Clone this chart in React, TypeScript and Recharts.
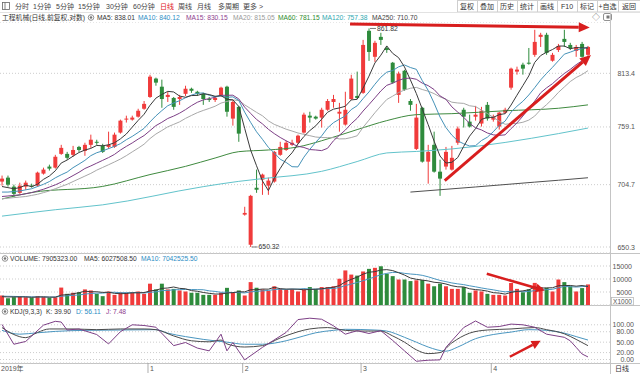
import React from 'react';
import { ComposedChart, Bar, Line, XAxis, YAxis, CartesianGrid, ReferenceLine, ReferenceDot, Cell } from 'recharts';

const FONT = "'Liberation Sans', Arial, 'Noto Sans CJK SC', sans-serif";
const RED = '#f03b3b';
const GREEN = '#2e8b3c';
const ARROW = '#d81e1e';

// ---------- price data (daily candles) ----------
const opens = [707.5,711.1,702.9,697.3,702.9,703.8,703.8,714.8,721.3,720.3,733.2,733.2,732.3,739.8,736.0,741.8,744.7,740.8,739.8,739.8,753.6,766.3,766.3,769.2,777.1,789.0,807.9,799.5,789.0,788.0,786.9,792.2,797.4,794.3,792.2,786.9,785.9,790.0,799.5,767.3,779.0,678.0,652.2,701.9,709.3,703.8,707.5,732.3,736.9,741.8,743.8,753.6,770.2,769.2,768.3,776.1,783.9,772.2,761.4,786.9,790.0,793.2,859.2,830.9,852.5,840.4,824.6,791.1,816.1,784.9,737.9,778.1,725.9,741.8,716.6,721.3,718.5,743.8,776.1,764.3,769.2,762.4,781.0,766.3,759.5,773.2,798.5,815.2,822.5,824.6,833.0,852.5,854.8,826.7,838.2,850.3,843.7,837.2,844.8,833.0];
const highs = [713.0,713.0,704.7,706.5,708.4,705.6,716.6,720.3,723.1,732.3,741.8,735.1,740.8,740.8,743.8,751.6,746.7,742.8,754.5,753.6,766.3,770.2,770.2,777.1,784.9,811.9,808.9,806.8,794.3,789.0,791.1,800.5,798.5,795.3,793.2,789.0,790.0,799.5,800.5,785.9,780.0,684.9,695.5,718.5,714.8,711.1,736.0,744.7,745.7,746.7,751.6,773.2,774.1,770.2,778.1,786.9,791.1,783.0,794.3,811.9,815.2,849.2,861.82,848.2,857.0,842.6,825.4,815.2,817.1,786.9,782.0,779.0,741.8,754.5,727.7,739.8,740.8,759.5,778.1,771.2,780.0,779.0,783.9,771.2,774.1,778.1,819.4,820.4,824.6,840.4,860.3,857.0,857.0,835.1,844.8,860.3,846.0,843.7,847.0,842.6];
const lows = [703.8,702.9,693.7,696.4,700.1,702.0,702.9,713.9,717.6,719.4,732.3,727.7,730.5,735.1,731.4,738.9,741.8,734.1,737.9,738.9,752.6,763.4,765.3,768.3,776.1,788.0,800.5,778.1,783.9,776.1,781.0,790.0,793.2,790.0,781.0,783.9,783.9,789.0,769.2,760.4,744.7,677.1,650.32,697.3,695.5,695.5,706.5,731.4,736.0,740.8,742.8,752.6,763.4,766.3,758.5,775.1,778.1,754.5,760.4,785.9,786.9,792.2,826.5,825.4,843.7,835.1,802.6,783.0,795.3,775.1,736.9,725.0,705.6,715.7,694.6,718.5,717.6,741.8,758.5,758.5,765.3,759.5,765.3,764.3,756.5,772.2,796.4,812.0,812.0,822.5,830.9,841.5,833.0,825.7,836.1,841.5,838.2,830.9,829.9,830.9];
const closes = [710.2,704.7,696.4,703.8,706.5,702.9,715.7,718.5,719.4,730.5,738.9,729.5,736.9,736.9,741.8,746.7,743.8,735.1,741.8,751.6,765.3,767.3,768.3,775.1,782.0,809.9,803.7,786.9,791.1,779.0,789.0,797.4,795.3,792.2,786.9,785.9,788.0,798.5,774.1,783.9,752.6,679.5,694.6,700.1,713.9,708.4,735.1,739.8,743.8,743.8,750.6,771.2,768.3,767.3,776.1,784.9,786.9,774.1,776.1,807.9,788.0,843.7,836.1,846.0,849.2,838.2,803.7,813.1,796.4,781.0,768.3,725.9,735.1,716.6,710.2,735.1,729.5,757.5,769.2,759.5,771.2,775.1,767.3,769.2,773.2,776.1,818.3,817.3,818.3,823.6,847.0,854.8,835.1,833.0,842.6,847.0,840.4,841.5,830.9,841.5];
// volume (x1000)
const volumes = [3650,2600,3000,3300,3000,2800,3400,3100,2800,3000,6700,4300,4700,4900,6000,5600,4300,3400,5200,3900,4900,4700,4700,5200,4300,8200,6000,8200,6000,6200,5600,5200,4700,4700,3900,3900,3900,4700,6600,4700,5600,3650,8800,6600,6000,5400,7200,6200,5800,6000,5200,6000,6900,6200,6900,6900,7200,10100,13300,11700,11300,12900,13900,14300,14900,12000,11100,9800,9800,9200,9500,9600,8200,7200,8200,7200,6200,6200,6900,4700,5600,5200,4300,3900,3900,3650,8500,6200,4900,6000,8500,6900,6600,5200,9800,8800,7200,5200,6500,7905];

// ---------- moving averages ----------
const ma5 = [703,702,701,702,704.3,702.9,705.1,709.5,712.6,717.4,724.6,727.4,731.0,734.5,736.8,738.4,741.2,740.9,741.8,743.8,747.5,752.2,758.9,765.5,771.6,780.5,787.8,791.5,794.7,794.1,789.9,788.7,790.4,790.6,792.2,791.5,789.7,790.3,786.7,786.1,779.4,757.7,736.9,722.1,708.1,699.3,710.4,719.5,728.2,734.2,742.6,749.8,755.5,760.2,766.7,773.6,776.7,777.9,779.6,786.0,786.6,798.0,810.4,824.3,832.6,842.6,834.6,830.0,820.1,806.5,792.5,776.9,761.3,745.4,731.2,724.6,725.3,729.8,740.3,750.2,757.4,766.5,768.5,768.5,771.2,772.2,780.8,790.8,800.6,810.7,824.9,832.2,835.8,838.7,842.5,842.5,839.6,840.9,840.5,840.3];
const ma10 = [698,698,698.5,699,700,701,703,705,707.5,710.9,713.7,716.2,720.3,723.6,727.1,731.5,734.3,736.0,738.2,740.3,742.9,746.7,749.9,753.7,757.7,764.0,770.0,775.2,780.1,782.9,785.2,788.2,790.9,792.7,793.1,790.7,789.2,790.3,788.6,789.1,785.5,773.7,763.6,754.4,747.1,739.4,734.1,728.2,725.2,721.2,721.0,730.1,737.5,744.2,750.4,758.1,763.3,766.7,769.9,776.3,780.1,787.3,794.1,802.0,809.3,814.6,816.3,820.2,822.2,819.5,817.6,805.8,795.7,782.8,768.9,758.5,751.1,745.6,742.8,740.7,741.0,745.9,749.1,754.4,760.7,764.8,773.7,779.6,784.6,791.0,798.5,806.5,813.3,819.7,826.6,833.7,835.9,838.3,839.6,841.4];
const ma15 = [694,694.5,695,695.5,696.5,697.5,699,700.5,702.5,704.5,707,710,713,716,719.5,721.9,724.5,727.1,729.7,732.7,736.8,740.3,743.6,747.3,750.7,755.5,760.4,763.7,767.4,769.8,772.7,776.2,780.2,783.6,786.0,787.3,788.7,790.7,790.7,790.8,787.0,778.7,772.5,766.5,762.1,756.8,752.6,748.9,745.7,742.8,740.4,739.3,737.3,736.9,736.3,738.5,745.7,751.0,756.0,762.3,767.6,774.8,781.3,788.1,795.1,800.9,803.1,806.1,808.0,808.4,807.2,803.2,800.6,796.6,790.1,786.6,779.0,773.7,768.6,762.6,758.2,756.2,753.2,751.4,750.9,751.4,757.5,763.0,769.8,777.4,784.8,793.2,798.3,802.6,808.1,813.2,817.5,822.5,826.6,831.2];
const ma20 = [692,692.5,693,693.5,694,695,696,697.5,699,701,703,705,707.5,710,712.5,715,718,720.5,723,725.6,728.3,731.5,735.1,738.6,742.4,747.8,752.2,755.6,759.2,761.6,764.1,767.5,770.4,773.2,775.4,777.4,779.6,782.8,784.4,786.0,785.4,781.0,777.3,773.5,770.1,765.1,761.6,759.3,756.9,755.1,753.2,751.9,750.6,749.3,748.8,748.7,748.7,747.5,747.6,748.8,750.5,758.7,765.8,773.1,779.9,786.4,789.8,793.5,796.1,797.9,798.8,796.6,794.9,792.4,789.1,786.6,783.7,782.9,782.5,780.1,779.3,775.8,772.4,768.6,764.8,761.7,762.4,762.6,763.7,765.8,769.8,776.2,781.2,787.0,793.6,799.2,804.8,809.0,812.1,816.2];
const ma60Pts = [[0,691.8],[5,697.6],[17,703.1],[25,713.9],[31,721.5],[36,729.3],[40,735.3],[45,736.9],[50,739.8],[54,745.7],[60,756.5],[65,765.3],[70,771.2],[76,772.2],[85,775.1],[94,777.6],[99,781.0]];
const ma120Pts = [[0,676.7],[9,682.3],[17,686.6],[34,702.9],[40,707.7],[44,710.2],[54,716.9],[60,726.0],[65,734.1],[70,735.5],[76,737.9],[94,752.6],[99,758.0]];
const ma250Pts = [[69,698.0],[80,702.6],[90,707.0],[94,708.7],[99,711.0]];

const volMa5 = [3200,3100,3100,3100,3110,2940,3100,3120,3020,3020,3800,3980,4300,4720,5320,5100,5100,4840,4900,4480,4340,4420,4680,4680,4760,5420,5680,6380,6540,6920,6400,6240,5540,5280,4820,4480,4220,4220,4600,4760,5100,5050,5870,5870,6130,6090,6800,6280,6120,6120,6080,5840,5980,6060,6240,6580,6820,7460,8880,9840,10720,11860,12620,12820,13460,13600,13240,12420,11520,10380,9880,9580,9260,8740,8540,8080,7400,7000,6940,6240,5920,5720,5340,4740,4580,4190,4850,5230,5430,5850,6820,6500,6580,6640,7400,7460,7520,7240,7500,7120];
const volMa10 = [3400,3350,3300,3250,3200,3150,3100,3100,3050,3070,3370,3540,3710,3870,4170,4450,4540,4570,4810,4900,4720,4760,4760,4790,4620,4880,5050,5530,5610,5840,5910,5960,5960,5910,5870,5440,5230,4880,4940,4790,4790,4640,5050,5240,5450,5600,5930,6080,6000,6130,6090,6320,6130,6090,6180,6330,6330,6720,7470,8040,8650,9340,10040,10850,11650,12160,12550,12520,12170,11920,11740,11410,10840,10130,9460,8980,8490,8130,7840,7390,7000,6560,6170,5840,5410,5060,5290,5290,5090,5220,5510,5680,5910,6040,6630,7140,7010,6910,7070,7260];

// KDJ(9,3,3)
const kPts = [[0,92],[2,72],[4,63],[6,78],[8,88],[12,88],[16,86],[20,88],[24,88],[26,86],[29,68],[32,54],[35,51],[37,56],[38,45],[41,36],[44,40],[47,62],[50,80],[52,88],[55,92],[58,84],[61,82],[64,82],[66,68],[68,50],[70,28],[72,17],[74,20],[76,48],[79,76],[82,85],[86,88],[90,92],[92,86],[95,74],[97,58],[99,39.9]];
const dPts = [[0,84],[3,73],[6,77],[9,81],[14,84],[20,85],[26,86],[28,76],[31,66],[34,58],[38,50],[41,44],[44,44],[48,54],[51,68],[53,77],[56,84],[58,87],[63,85],[65,82],[68,64],[70,50],[72,36],[75,24],[77,36],[80,60],[83,72],[86,79],[89,86],[92,84],[95,76],[97,66],[99,56.11]];
const jPts = [[0,101],[2,44],[4,52],[7,99],[9,110],[10,108],[11,85],[13,88],[16,72],[18,45],[20,80],[22,100],[24,98],[26,93],[29,40],[31,49],[33,33],[35,25],[37,73],[38,25],[39,49],[41,-1],[44,35],[48,78],[50,115],[52,119],[54,116],[56,97],[58,73],[60,83],[62,75],[64,83],[66,55],[68,25],[70,-5],[72,-2],[74,-1],[75,35],[78,92],[80,111],[82,93],[84,95],[86,102],[88,100],[90,93],[92,73],[95,64],[96,54],[97,35],[98,16],[99,7.48]];

// ticks / labels
const priceTicks = [650.3, 704.7, 759.1, 813.4];
const volTicks = [5000, 10000, 15000];
const kdjTicks = [0, 20, 50, 80, 100];
const monthTickIdx = [0, 25, 41, 61, 83];
const monthLabels = ['2019年', '1', '2', '3', '4'];

// annotation arrows (data coordinates)
const topArrow = [{ x: 58.8, y: 866.9 }, { x: 99.3, y: 863.0 }];
const trendArrow = [{ x: 74.8, y: 708.3 }, { x: 99.5, y: 832.8 }];
const volArrow = [{ x: 81.9, y: 12000 }, { x: 91.7, y: 5600 }];
const kdjArrow = [{ x: 85.8, y: 8 }, { x: 91, y: 54 }];

const X_DOMAIN = [-0.34, 102.72];

const candles = opens.map((o, i) => ({ i, open: o, high: highs[i], low: lows[i], close: closes[i], vol: volumes[i] }));
const toSeries = (arr) => arr.map((v, i) => ({ i, v }));
const fromPts = (pts) => pts.map(([i, v]) => ({ i, v }));

const Candle = (props) => {
  const { x, y, width, height, payload } = props;
  if (x == null || y == null || !payload) return null;
  const { open, close, high, low } = payload;
  const color = close >= open ? RED : GREEN;
  const top = Math.min(y, y + height);
  const h = Math.abs(height);
  const lh = Math.log(high), ll = Math.log(low);
  const span = lh - ll;
  const py = (v) => (span <= 0 ? top : top + ((lh - Math.log(v)) / span) * h);
  const cx = x + width / 2;
  const bt = py(Math.max(open, close));
  const bb = py(Math.min(open, close));
  return (
    <g>
      <line x1={cx} x2={cx} y1={top} y2={top + h} stroke={color} strokeWidth={1} />
      <rect x={cx - 2} y={bt} width={4} height={Math.max(1, bb - bt)} fill={color} />
    </g>
  );
};

const makeArrow = (w, L, hw) => (props) => {
  const { x1, y1, x2, y2 } = props;
  if ([x1, y1, x2, y2].some((v) => v == null || isNaN(v))) return null;
  const a = Math.atan2(y2 - y1, x2 - x1);
  const bx = x2 - L * Math.cos(a), by = y2 - L * Math.sin(a);
  const p1 = `${bx + hw * Math.sin(a)},${by - hw * Math.cos(a)}`;
  const p2 = `${bx - hw * Math.sin(a)},${by + hw * Math.cos(a)}`;
  return (
    <g>
      <line x1={x1} y1={y1} x2={bx} y2={by} stroke={ARROW} strokeWidth={w} />
      <polygon points={`${x2},${y2} ${p1} ${p2}`} fill={ARROW} />
    </g>
  );
};
const BigArrow = makeArrow(3, 11, 5);
const SmallArrow = makeArrow(2.5, 9, 4.5);

const ExtremeLabel = (text) => (props) => {
  const { cx, cy } = props;
  if (cx == null || cy == null) return null;
  return (
    <g>
      <line x1={cx + 1} x2={cx + 7} y1={cy} y2={cy} stroke="#555" strokeWidth={0.8} />
      <text x={cx + 8} y={cy} dominantBaseline="central" fontSize={6.8} fill="#333" fontFamily={FONT}>{text}</text>
    </g>
  );
};

const mkTick = (xEnd, fmt) => (p) => (
  <text x={xEnd} y={p.y} textAnchor="end" dominantBaseline="central" fontSize={7} fill="#555" fontFamily={FONT}>
    {fmt(p.payload.value)}
  </text>
);

const MonthTick = (p) => {
  const idx = monthTickIdx.indexOf(p.payload.value);
  const label = monthLabels[idx] ?? '';
  return (
    <g>
      {idx > 0 && <line x1={p.x - 2} x2={p.x - 2} y1={p.y} y2={p.y + 10} stroke="#999" strokeWidth={0.8} />}
      <text x={idx > 0 ? p.x : 1} y={p.y + 5.5} dominantBaseline="central" fontSize={7} fill="#555" fontFamily={FONT}>{label}</text>
    </g>
  );
};

const toolbarLabels = ['分时', '1分钟', '5分钟', '15分钟', '30分钟', '60分钟', '日线', '周线', '月线', '多周期', '更多 >'];
const toolbarX = [15, 33, 56, 78, 106, 133, 160, 178, 197, 218, 243];
const btnLabels = ['复权', '叠加', '历史', '统计', '画线', 'F10', '标记', '+自选', '返回'];
const btnEdges = [457, 477, 497, 517, 537, 557, 577, 597, 618, 640];
const maLegend = [
  { t: 'MA5: 838.01', x: 97, c: '#333' },
  { t: 'MA10: 840.12', x: 138, c: '#2b8cc4' },
  { t: 'MA15: 830.15', x: 186, c: '#8e3c8e' },
  { t: 'MA20: 815.05', x: 233, c: '#999' },
  { t: 'MA60: 781.15', x: 278, c: '#2e8b2e' },
  { t: 'MA120: 757.38', x: 322, c: '#2fa8b0' },
  { t: 'MA250: 710.70', x: 372, c: '#444' },
];

const T = ({ x, y, c = '#333', s = 6.8, anchor = 'start', children }) => (
  <text x={x} y={y} fill={c} fontSize={s} textAnchor={anchor} dominantBaseline="central" fontFamily={FONT}>{children}</text>
);
const Bullet = ({ x, y }) => (
  <g>
    <circle cx={x} cy={y} r={2.8} fill="none" stroke="#777" strokeWidth={0.8} />
    <circle cx={x} cy={y} r={1.3} fill="#777" />
  </g>
);

const Overlay = () => (
  <svg width={640} height={374} style={{ position: 'absolute', left: 0, top: 0 }}>
    <rect x={0} y={0} width={640} height={374} fill="#fff" />
    {/* toolbar */}
    <rect x={2.5} y={2.5} width={7} height={7} fill="none" stroke="#666" strokeWidth={0.8} />
    <line x1={5} x2={5} y1={2.5} y2={9.5} stroke="#666" strokeWidth={0.8} />
    {toolbarLabels.map((l, k) => (
      <T key={l} x={toolbarX[k]} y={6} c={l === '日线' ? '#e02020' : '#444'} s={7}>{l}</T>
    ))}
    {btnLabels.map((l, k) => (
      <g key={l}>
        <rect x={btnEdges[k] + 0.5} y={0.5} width={btnEdges[k + 1] - btnEdges[k]} height={11.5} fill="#fff" stroke="#cfcfcf" strokeWidth={1} />
        <T x={(btnEdges[k] + btnEdges[k + 1]) / 2} y={6.3} c="#333" s={7} anchor="middle">{l}</T>
      </g>
    ))}
    <line x1={0} x2={640} y1={12.5} y2={12.5} stroke="#e2e2e2" />
    {/* legend row */}
    <T x={2} y={17.5} c="#333">工程机械(日线,前复权,对数)</T>
    <Bullet x={91} y={17.5} />
    {maLegend.map((m) => (
      <T key={m.t} x={m.x} y={17.5} c={m.c} s={6.7}>{m.t}</T>
    ))}
    <T x={592} y={17.5} c="#666" s={8}>◇</T>
    <rect x={603.5} y={13.5} width={8} height={7} rx={1.5} fill="none" stroke="#777" strokeWidth={0.8} />
    <rect x={606.5} y={15.5} width={3} height={3} fill="#777" />
    {/* panel separators */}
    <line x1={0} x2={640} y1={253.5} y2={253.5} stroke="#c4c4c4" />
    <line x1={0} x2={640} y1={305.5} y2={305.5} stroke="#c4c4c4" />
    <line x1={0} x2={640} y1={363.5} y2={363.5} stroke="#c4c4c4" />
    <line x1={610.5} x2={610.5} y1={12.5} y2={374} stroke="#c4c4c4" />
    {/* volume label */}
    <Bullet x={5} y={258.5} />
    <T x={10} y={258.5} c="#333" s={6.7}>VOLUME: 7905323.00</T>
    <T x={84} y={258.5} c="#333" s={6.7}>MA5: 6027508.50</T>
    <T x={141} y={258.5} c="#2b8cc4" s={6.7}>MA10: 7042525.50</T>
    <rect x={611.5} y={297.5} width={22} height={7.5} fill="#fff" stroke="#bbb" strokeWidth={0.8} />
    <T x={622.5} y={301.5} c="#555" s={6.5} anchor="middle">X1000</T>
    {/* kdj label */}
    <Bullet x={5} y={311.5} />
    <T x={10} y={311.5} c="#333" s={6.7}>KDJ(9,3,3)</T>
    <T x={46} y={311.5} c="#333" s={6.7}>K: 39.90</T>
    <T x={76} y={311.5} c="#2b8cc4" s={6.7}>D: 56.11</T>
    <T x={106} y={311.5} c="#8e3c8e" s={6.7}>J: 7.48</T>
    <T x={622} y={368.5} c="#333" s={7} anchor="middle">日线</T>
  </svg>
);

const M = { top: 0, right: 0, bottom: 0, left: 0 };
const lineProps = { dot: false, activeDot: false, isAnimationActive: false, strokeWidth: 1, dataKey: 'v' };

export default function App() {
  return (
    <div style={{ position: 'absolute', left: 0, top: 0, width: 640, height: 374, overflow: 'hidden', background: '#fff' }}>
      <Overlay />
      {/* main price panel */}
      <div style={{ position: 'absolute', left: 0, top: 22 }}>
        <ComposedChart width={640} height={231} data={candles} margin={M}>
          <XAxis dataKey="i" type="number" domain={X_DOMAIN} allowDataOverflow hide />
          <YAxis orientation="right" width={30} scale="log" domain={[645.3, 869]} allowDataOverflow ticks={priceTicks} interval={0}
            axisLine={false} tickLine={false} tick={mkTick(635, (v) => v.toFixed(1))} />
          <CartesianGrid vertical={false} stroke="#cdcdcd" strokeDasharray="1 2" />
          <Bar dataKey={(d) => [d.low, d.high]} barSize={4} shape={Candle} isAnimationActive={false} />
          <Line {...lineProps} data={fromPts(ma250Pts)} stroke="#505050" type="monotone" />
          <Line {...lineProps} data={fromPts(ma120Pts)} stroke="#62c3cb" type="monotone" />
          <Line {...lineProps} data={fromPts(ma60Pts)} stroke="#3f8a3f" type="monotone" />
          <Line {...lineProps} data={toSeries(ma20)} stroke="#a8a8a8" type="linear" />
          <Line {...lineProps} data={toSeries(ma15)} stroke="#7d3f86" type="linear" />
          <Line {...lineProps} data={toSeries(ma10)} stroke="#4592b8" type="linear" />
          <Line {...lineProps} data={toSeries(ma5)} stroke="#3a3a3a" type="linear" />
          <ReferenceDot x={42} y={650.32} r={0} shape={ExtremeLabel('650.32')} />
          <ReferenceDot x={62} y={861.82} r={0} shape={ExtremeLabel('861.82')} />
          <ReferenceLine segment={topArrow} shape={BigArrow} />
          <ReferenceLine segment={trendArrow} shape={BigArrow} />
        </ComposedChart>
      </div>
      {/* volume panel */}
      <div style={{ position: 'absolute', left: 0, top: 253 }}>
        <ComposedChart width={640} height={52} data={candles} margin={M}>
          <XAxis dataKey="i" type="number" domain={X_DOMAIN} allowDataOverflow hide />
          <YAxis orientation="right" width={30} domain={[0, 20000]} allowDataOverflow ticks={volTicks} interval={0}
            axisLine={false} tickLine={false} tick={mkTick(632, (v) => String(v))} />
          <CartesianGrid vertical={false} stroke="#cdcdcd" strokeDasharray="1 2" />
          <Bar dataKey="vol" barSize={4} isAnimationActive={false}>
            {candles.map((d) => (
              <Cell key={d.i} fill={d.close >= d.open ? RED : GREEN} />
            ))}
          </Bar>
          <Line {...lineProps} data={toSeries(volMa10)} stroke="#4a96c0" type="linear" />
          <Line {...lineProps} data={toSeries(volMa5)} stroke="#3a3a3a" type="linear" />
          <ReferenceLine segment={volArrow} shape={SmallArrow} />
        </ComposedChart>
      </div>
      {/* KDJ panel */}
      <div style={{ position: 'absolute', left: 0, top: 305 }}>
        <ComposedChart width={640} height={69} data={candles} margin={M}>
          <XAxis dataKey="i" type="number" domain={X_DOMAIN} allowDataOverflow ticks={monthTickIdx} interval={0}
            height={11} axisLine={false} tickLine={false} tickSize={0} tickMargin={0} tick={MonthTick} />
          <YAxis orientation="right" width={30} domain={[-10, 157]} allowDataOverflow ticks={kdjTicks} interval={0}
            axisLine={false} tickLine={false} tick={mkTick(634, (v) => v.toFixed(2))} />
          <CartesianGrid vertical={false} stroke="#cdcdcd" strokeDasharray="1 2" />
          <Line {...lineProps} data={fromPts(dPts)} stroke="#4a96c0" type="monotone" />
          <Line {...lineProps} data={fromPts(kPts)} stroke="#4a4a4a" type="monotone" />
          <Line {...lineProps} data={fromPts(jPts)} stroke="#7d3f86" type="linear" />
          <ReferenceLine segment={kdjArrow} shape={SmallArrow} />
        </ComposedChart>
      </div>
    </div>
  );
}
